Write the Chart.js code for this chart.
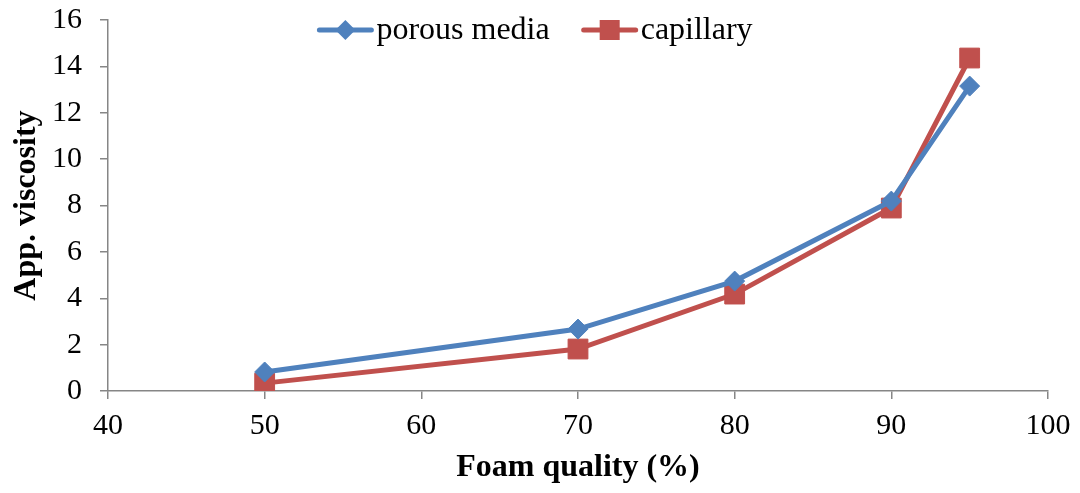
<!DOCTYPE html>
<html>
<head>
<meta charset="utf-8">
<script src="https://cdn.jsdelivr.net/npm/chart.js@4.4.1/dist/chart.umd.min.js"></script>
<style>
html,body{margin:0;padding:0;background:#fff;}
#wrap{width:1080px;height:493px;}
</style>
</head>
<body>
<div id="wrap"><canvas id="c" width="1080" height="493"></canvas></div>
<script>
const foamQuality = [50, 70, 80, 90, 95];
const porousMedia = [0.82, 2.67, 4.74, 8.19, 13.15];
const capillary = [0.34, 1.81, 4.18, 7.89, 14.36];
const seriesNames = ['porous media', 'capillary'];
const xAxisTitle = 'Foam quality (%)';
const yAxisTitle = 'App. viscosity';
const xTickRange = [40, 100, 10];
const yTickRange = [0, 16, 2];

const BLUE = '#4F81BD';
const RED = '#C0504D';
const AXIS = '#868686';
const SERIF = '"Liberation Serif", "Times New Roman", serif';

function pts(ys) { return foamQuality.map((x, i) => ({x: x, y: ys[i]})); }

const legendPlugin = {
  id: 'lineLegend',
  afterDraw(chart) {
    const ctx = chart.ctx;
    const items = chart.data.datasets;
    ctx.save();
    ctx.font = '32px ' + SERIF;
    const lineW = 56, gap = 3, itemGap = 32;
    let total = 0;
    const widths = items.map(d => ctx.measureText(d.label).width);
    widths.forEach((w, i) => { total += lineW + gap + w + (i ? itemGap : 0); });
    let x = 535 - total / 2;
    const y = 30;
    items.forEach((d, i) => {
      if (i) x += itemGap;
      ctx.strokeStyle = d.borderColor;
      ctx.lineWidth = 5;
      ctx.lineCap = 'round';
      ctx.beginPath(); ctx.moveTo(x + 2, y); ctx.lineTo(x + lineW - 2, y); ctx.stroke();
      ctx.fillStyle = d.borderColor;
      const cx = x + lineW / 2;
      if (d.pointStyle === 'rectRot') {
        ctx.beginPath(); ctx.moveTo(cx, y - 10); ctx.lineTo(cx + 10, y); ctx.lineTo(cx, y + 10); ctx.lineTo(cx - 10, y); ctx.closePath(); ctx.fill();
      } else {
        ctx.fillRect(cx - 10, y - 10, 20, 20);
      }
      ctx.fillStyle = '#000';
      ctx.textBaseline = 'middle';
      ctx.textAlign = 'left';
      ctx.fillText(d.label, x + lineW + gap, y + 1);
      x += lineW + gap + widths[i];
    });
    ctx.restore();
  }
};

new Chart(document.getElementById('c'), {
  type: 'scatter',
  data: {
    datasets: [
      {label: seriesNames[0], data: pts(porousMedia), showLine: true, borderColor: BLUE, backgroundColor: BLUE,
       borderWidth: 5, pointStyle: 'rectRot', pointRadius: 10, pointHoverRadius: 10, pointBorderWidth: 1, tension: 0},
      {label: seriesNames[1], data: pts(capillary), showLine: true, borderColor: RED, backgroundColor: RED,
       borderWidth: 5, pointStyle: 'rect', pointRadius: 14, pointHoverRadius: 14, pointBorderWidth: 1, tension: 0}
    ]
  },
  options: {
    responsive: false,
    animation: false,
    events: [],
    layout: {padding: {top: 20, right: 32, left: 0, bottom: 0}},
    plugins: {legend: {display: false}, tooltip: {enabled: false}},
    scales: {
      x: {
        type: 'linear', min: xTickRange[0], max: xTickRange[1],
        ticks: {stepSize: xTickRange[2], color: '#000', font: {family: SERIF, size: 30}, padding: 9},
        grid: {drawOnChartArea: false, drawTicks: true, tickLength: 8, color: AXIS, lineWidth: 1.5},
        border: {color: AXIS, width: 1.5},
        title: {display: true, text: xAxisTitle, color: '#000', font: {family: SERIF, size: 32, weight: 'bold'}, padding: {top: 0, bottom: 6}},
        afterFit(s) { s.height = 102; s.paddingLeft = 0; s.paddingRight = 0; }
      },
      y: {
        min: yTickRange[0], max: yTickRange[1],
        ticks: {stepSize: yTickRange[2], color: '#000', font: {family: SERIF, size: 30}, padding: 18},
        grid: {drawOnChartArea: false, drawTicks: true, tickLength: 8, color: AXIS, lineWidth: 1.5},
        border: {color: AXIS, width: 1.5},
        title: {display: true, text: yAxisTitle, color: '#000', font: {family: SERIF, size: 32, weight: 'bold'}, padding: {top: 8, bottom: 0}},
        afterFit(s) { s.width = 108; s.paddingTop = 0; s.paddingBottom = 0; }
      }
    }
  },
  plugins: [legendPlugin]
});
</script>
</body>
</html>
